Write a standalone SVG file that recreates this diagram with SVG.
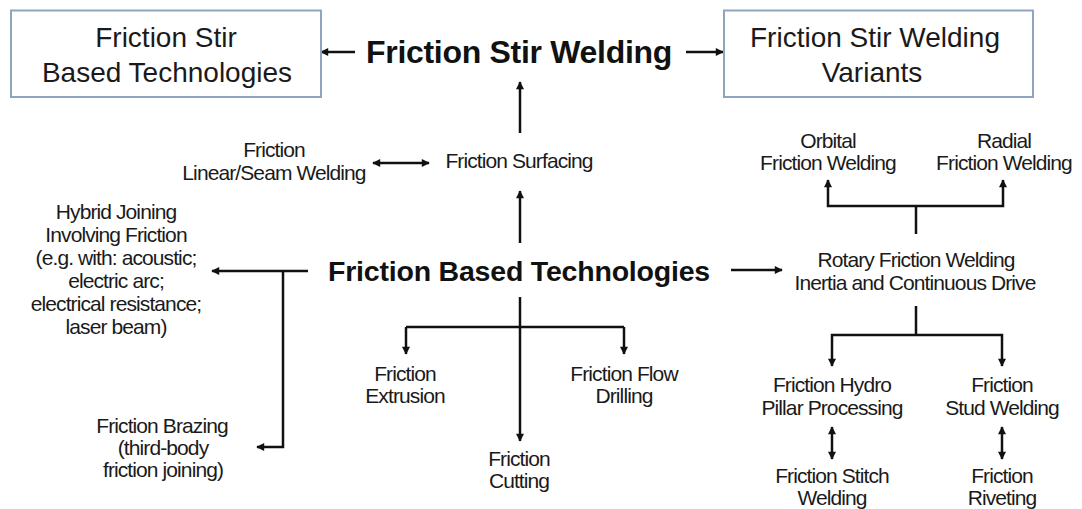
<svg xmlns="http://www.w3.org/2000/svg" width="1082" height="509" viewBox="0 0 1082 509">
<defs>
<marker id="ah" viewBox="0 0 10 10" refX="9" refY="5" markerWidth="9" markerHeight="8" markerUnits="userSpaceOnUse" orient="auto-start-reverse">
<path d="M0,0 L10,5 L0,10 Z" fill="#111"/>
</marker>
</defs>
<style>
.t{font-family:"Liberation Sans",Arial,sans-serif;font-size:21px;letter-spacing:-0.9px;fill:#1a1a1a;text-anchor:middle}
.bx{font-family:"Liberation Sans",Arial,sans-serif;font-size:28px;fill:#1a1a1a;text-anchor:middle}
.b{font-family:"Liberation Sans",Arial,sans-serif;font-weight:bold;fill:#111;text-anchor:middle}
.box{fill:#fff;stroke:#8fa5bf;stroke-width:2}
.c{fill:none;stroke:#111;stroke-width:2.5}
.a{fill:none;stroke:#111;stroke-width:2.5;marker-end:url(#ah)}
.d{fill:none;stroke:#111;stroke-width:2.5;marker-end:url(#ah);marker-start:url(#ah)}
</style>
<rect width="1082" height="509" fill="#fff"/>
<g id="connectors">
<line class="a" x1="355" y1="52" x2="321" y2="52"/>
<line class="a" x1="686" y1="52" x2="723" y2="52"/>
<line class="a" x1="520" y1="133" x2="520" y2="82"/>
<line class="d" x1="373" y1="163" x2="429" y2="163"/>
<line class="a" x1="520" y1="243" x2="520" y2="191"/>
<line class="a" x1="308" y1="271" x2="212" y2="271"/>
<polyline class="a" points="283,271 283,447 257,447"/>
<line class="a" x1="520" y1="297" x2="520" y2="441"/>
<polyline class="a" points="406,327 406,354"/>
<polyline class="c" points="406,327 624,327"/>
<polyline class="a" points="624,327 624,354"/>
<line class="a" x1="731" y1="270" x2="782" y2="270"/>
<line class="c" x1="916" y1="234" x2="916" y2="206"/>
<polyline class="a" points="916,206 828,206 828,180"/>
<polyline class="a" points="916,206 1003,206 1003,180"/>
<line class="c" x1="916" y1="306" x2="916" y2="335"/>
<polyline class="a" points="916,335 832,335 832,366"/>
<polyline class="a" points="916,335 1002,335 1002,366"/>
<line class="d" x1="832" y1="427" x2="832" y2="459"/>
<line class="d" x1="1002" y1="427" x2="1002" y2="459"/>
</g>
<g id="fsbt">
<rect class="box" x="11" y="10.5" width="310" height="86.5"/>
<text class="bx" x="166" y="47">Friction Stir</text>
<text class="bx" x="167" y="82">Based Technologies</text>
</g>
<g id="fswv">
<rect class="box" x="724" y="10.5" width="309" height="86.5"/>
<text class="bx" x="875" y="47">Friction Stir Welding</text>
<text class="bx" x="872" y="82">Variants</text>
</g>
<g id="fsw">
<text class="b" x="519" y="63" font-size="32" letter-spacing="-0.3">Friction Stir Welding</text>
</g>
<g id="linear">
<text class="t" x="274" y="157">Friction</text>
<text class="t" x="274" y="180">Linear/Seam Welding</text>
</g>
<g id="surfacing">
<text class="t" x="519" y="168">Friction Surfacing</text>
</g>
<g id="orbital">
<text class="t" x="828" y="148">Orbital</text>
<text class="t" x="828" y="170">Friction Welding</text>
</g>
<g id="radial">
<text class="t" x="1004" y="148">Radial</text>
<text class="t" x="1004" y="170">Friction Welding</text>
</g>
<g id="hybrid">
<text class="t" x="116" y="219">Hybrid Joining</text>
<text class="t" x="116" y="242">Involving Friction</text>
<text class="t" x="116" y="265">(e.g. with: acoustic;</text>
<text class="t" x="116" y="288">electric arc;</text>
<text class="t" x="116" y="311">electrical resistance;</text>
<text class="t" x="116" y="334">laser beam)</text>
</g>
<g id="fbt">
<text class="b" x="519" y="281" font-size="28.5" letter-spacing="-0.2">Friction Based Technologies</text>
</g>
<g id="rotary">
<text class="t" x="916" y="267">Rotary Friction Welding</text>
<text class="t" x="915" y="290">Inertia and Continuous Drive</text>
</g>
<g id="extrusion">
<text class="t" x="405" y="381">Friction</text>
<text class="t" x="405" y="403">Extrusion</text>
</g>
<g id="flow">
<text class="t" x="624" y="381">Friction Flow</text>
<text class="t" x="624" y="403">Drilling</text>
</g>
<g id="cutting">
<text class="t" x="519" y="466">Friction</text>
<text class="t" x="519" y="488">Cutting</text>
</g>
<g id="brazing">
<text class="t" x="162" y="433">Friction Brazing</text>
<text class="t" x="163" y="455">(third-body</text>
<text class="t" x="163" y="477">friction joining)</text>
</g>
<g id="hydro">
<text class="t" x="832" y="392">Friction Hydro</text>
<text class="t" x="832" y="415">Pillar Processing</text>
</g>
<g id="stud">
<text class="t" x="1002" y="392">Friction</text>
<text class="t" x="1002" y="415">Stud Welding</text>
</g>
<g id="stitch">
<text class="t" x="832" y="483">Friction Stitch</text>
<text class="t" x="832" y="505">Welding</text>
</g>
<g id="riveting">
<text class="t" x="1002" y="483">Friction</text>
<text class="t" x="1002" y="505">Riveting</text>
</g>
</svg>
